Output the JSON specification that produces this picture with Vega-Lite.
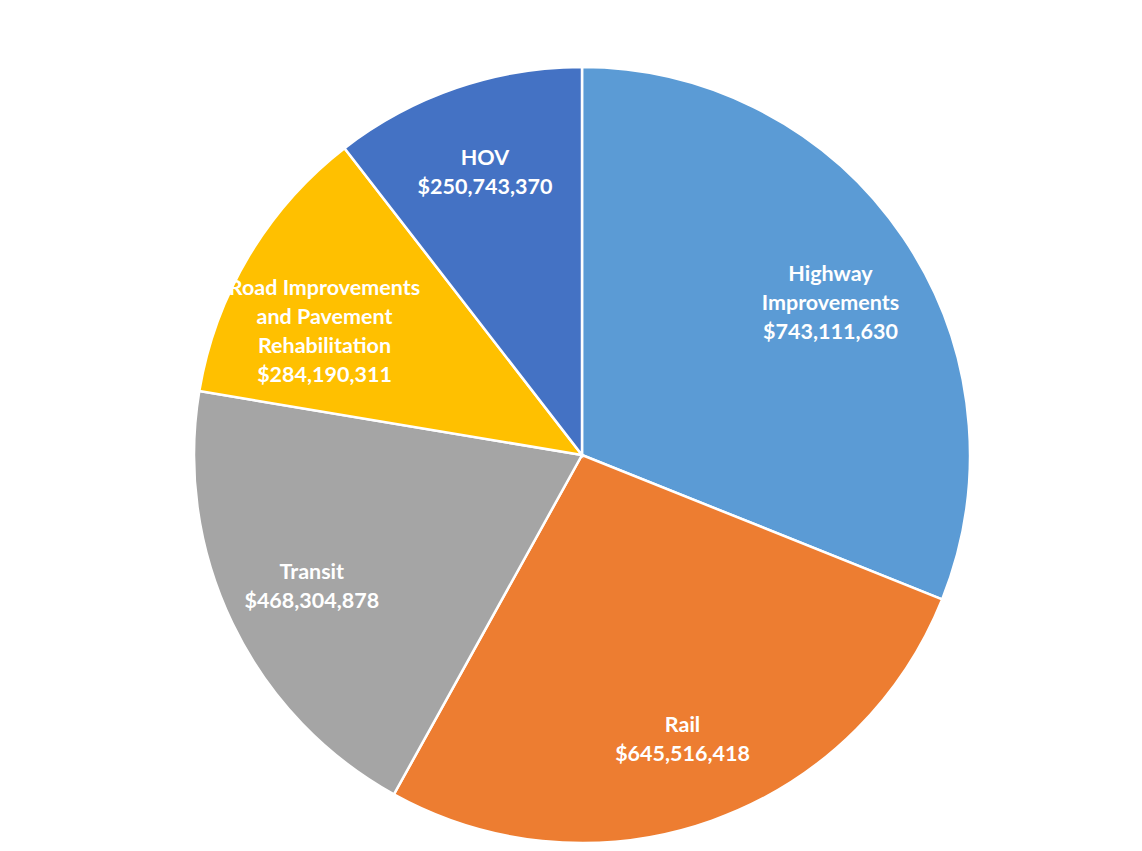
{
  "$schema": "https://vega.github.io/schema/vega-lite/v6.json",
  "width": 776,
  "height": 776,
  "padding": {"left": 194, "top": 67, "right": 0, "bottom": 0},
  "autosize": {"type": "none"},
  "background": "white",
  "view": {"stroke": null},
  "data": {
    "values": [
      {"rank": 1, "category": "Highway Improvements", "amount": 743111630, "label": "Highway\nImprovements\n$743,111,630"},
      {"rank": 2, "category": "Rail", "amount": 645516418, "label": "Rail\n$645,516,418"},
      {"rank": 3, "category": "Transit", "amount": 468304878, "label": "Transit\n$468,304,878"},
      {"rank": 4, "category": "Road Improvements and Pavement Rehabilitation", "amount": 284190311, "label": "Road Improvements\nand Pavement\nRehabilitation\n$284,190,311"},
      {"rank": 5, "category": "HOV", "amount": 250743370, "label": "HOV\n$250,743,370"}
    ]
  },
  "encoding": {
    "theta": {"field": "amount", "type": "quantitative", "stack": true},
    "order": {"field": "rank", "type": "quantitative", "sort": "ascending"}
  },
  "layer": [
    {
      "mark": {"type": "arc", "outerRadius": 388, "stroke": "white", "strokeWidth": 2.5},
      "encoding": {
        "color": {
          "field": "category",
          "type": "nominal",
          "scale": {
            "domain": ["Highway Improvements", "Rail", "Transit", "Road Improvements and Pavement Rehabilitation", "HOV"],
            "range": ["#5B9BD5", "#ED7D31", "#A5A5A5", "#FFC000", "#4472C4"]
          },
          "legend": null
        }
      }
    },
    {
      "mark": {
        "type": "text",
        "radius": 300,
        "dy": -12,
        "font": "Lato",
        "fontWeight": "bold",
        "fontSize": 21.5,
        "lineHeight": 29,
        "lineBreak": "\n",
        "color": "white",
        "align": "center",
        "baseline": "middle"
      },
      "encoding": {
        "text": {"field": "label", "type": "nominal"}
      }
    }
  ]
}
